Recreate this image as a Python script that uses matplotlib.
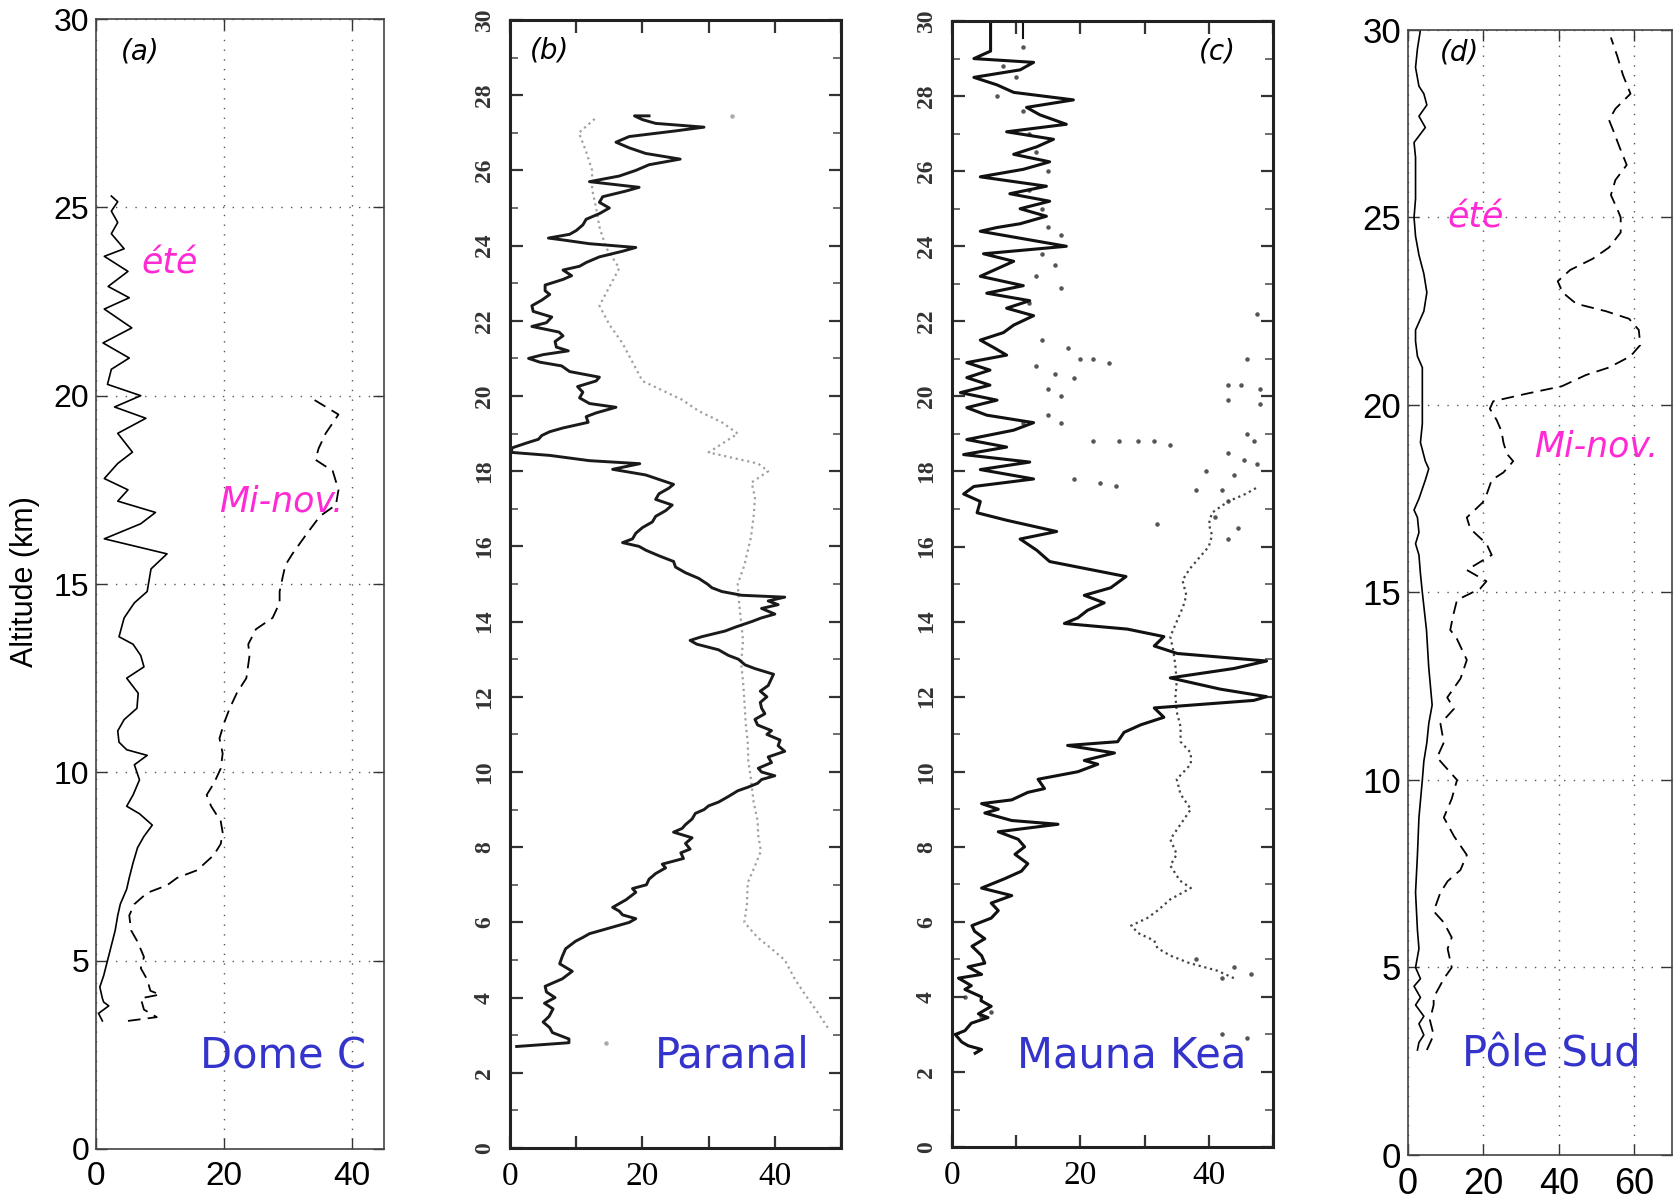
import numpy as np
import matplotlib
matplotlib.use('Agg')
import matplotlib.pyplot as plt
from matplotlib.ticker import MultipleLocator

plt.rcParams['font.family'] = ['DejaVu Sans']

# ---------------- (a) Dome C ----------------
a_ete_alt = [3.4, 3.6, 3.8, 3.9, 4.0, 4.3, 4.6, 5.0, 5.4, 5.8, 6.2, 6.5, 6.9, 7.2, 7.6, 8.0,
             8.3, 8.6, 8.9, 9.1, 9.4, 9.8, 10.2, 10.45, 10.6, 10.8, 11.1, 11.4, 11.7, 12.1,
             12.5, 12.8, 13.1, 13.4, 13.6, 14.1, 14.5, 14.8, 15.0, 15.4, 15.8, 16.2, 16.6,
             16.9, 17.2, 17.5, 17.8, 18.2, 18.5, 19.0, 19.4, 19.7, 20.0, 20.3, 20.7, 21.0,
             21.4, 21.8, 22.3, 22.6, 22.9, 23.3, 23.7, 23.9, 24.3, 24.6, 24.9, 25.15, 25.3]
a_ete_val = [1.0, 0.4, 2.0, 1.2, 1.0, 0.6, 1.2, 1.8, 2.4, 3.0, 3.4, 3.8, 4.8, 5.2, 5.8, 6.5,
             7.5, 8.8, 6.8, 4.8, 5.8, 6.8, 6.0, 8.0, 4.8, 3.6, 3.4, 4.4, 6.4, 6.6,
             4.8, 7.5, 7.0, 5.8, 3.6, 4.4, 6.0, 8.0, 8.2, 8.6, 11.1, 1.3, 7.0,
             9.3, 3.4, 5.0, 1.3, 3.4, 5.7, 3.4, 7.8, 2.9, 7.0, 1.8, 2.4, 5.2,
             1.1, 5.6, 1.3, 5.2, 1.9, 5.0, 1.3, 4.4, 2.4, 3.4, 2.4, 3.4, 2.4]

a_nov_alt = [3.4, 3.5, 3.7, 4.0, 4.1, 4.2, 4.5, 4.8, 5.1, 5.5, 5.8, 6.2, 6.5, 6.8, 7.0, 7.2,
             7.4, 7.8, 8.1, 8.4, 8.7, 9.1, 9.4, 9.7, 10.1, 10.5, 10.9, 11.3, 11.7, 12.1,
             12.5, 13.1, 13.4, 13.8, 14.1, 14.5, 14.8, 15.2, 15.5, 15.8, 16.3, 16.8, 17.1,
             17.5, 18.0, 18.3, 18.6, 19.0, 19.5, 19.9]
a_nov_val = [5.0, 9.5, 7.5, 7.0, 10.0, 8.5, 8.0, 7.0, 7.5, 6.5, 5.5, 5.2, 6.0, 8.0, 11.1, 12.7,
             15.8, 18.4, 19.5, 19.8, 19.5, 18.0, 17.3, 18.4, 19.5, 19.8, 19.3, 20.0, 20.9, 22.0,
             23.5, 24.0, 23.8, 25.0, 27.6, 28.7, 28.7, 29.2, 29.6, 30.7, 32.8, 35.0, 37.5,
             37.9, 37.0, 34.3, 34.8, 35.9, 37.9, 34.0]

# ---------------- (b) Paranal ----------------
b_sol_alt = [2.7, 2.8, 2.9, 3.07, 3.2, 3.35, 3.5, 3.7, 3.85, 4.0, 4.15, 4.3, 4.5, 4.7, 4.9,
             5.1, 5.3, 5.5, 5.6, 5.7, 5.8, 5.9, 6.0, 6.1, 6.2, 6.3, 6.4, 6.5, 6.6, 6.8, 6.9,
             7.0, 7.15, 7.3, 7.45, 7.55, 7.7, 7.85, 7.95, 8.1, 8.25, 8.4, 8.5, 8.6, 8.75,
             8.9, 9.0, 9.1, 9.2, 9.35, 9.5, 9.6, 9.7, 9.8, 9.9, 10.0, 10.1, 10.25, 10.4,
             10.55, 10.7, 10.85, 11.0, 11.1, 11.25, 11.4, 11.55, 11.7, 11.85, 12.0, 12.15,
             12.3, 12.45, 12.6, 12.75, 12.85, 13.0, 13.1, 13.25, 13.4, 13.5, 13.6, 13.75,
             13.85, 14.0, 14.1, 14.2, 14.35, 14.45, 14.55, 14.65, 14.7, 14.8, 14.9, 15.0,
             15.15, 15.3, 15.45, 15.6, 15.75, 15.9, 16.0, 16.1, 16.2, 16.35, 16.5, 16.65,
             16.8, 16.95, 17.1, 17.25, 17.4, 17.55, 17.65, 17.75, 17.9, 18.05, 18.2, 18.28,
             18.35, 18.42, 18.5, 18.62, 18.75, 18.85, 18.95, 19.05, 19.15, 19.3, 19.45,
             19.55, 19.7, 19.8, 19.95, 20.1, 20.25, 20.4, 20.5, 20.65, 20.8, 20.9, 21.0,
             21.1, 21.2, 21.3, 21.45, 21.6, 21.7, 21.85, 21.95, 22.1, 22.25, 22.4, 22.55,
             22.7, 22.8, 22.95, 23.1, 23.2, 23.35, 23.45, 23.55, 23.7, 23.85, 23.95, 24.05,
             24.15, 24.2, 24.3, 24.4, 24.55, 24.7, 24.85, 25.0, 25.15, 25.3, 25.45, 25.55,
             25.7, 25.85, 26.0, 26.15, 26.3, 26.45, 26.6, 26.75, 26.9, 27.05, 27.15, 27.25,
             27.35, 27.45, 27.45]
b_sol_val = [1.0, 8.9, 8.9, 6.4, 6.0, 5.0, 5.9, 6.5, 5.2, 6.8, 5.5, 5.3, 7.9, 9.4, 7.5,
             7.9, 8.4, 9.9, 11.0, 12.0, 14.0, 16.0, 18.0, 19.0, 17.0, 16.5, 15.5, 16.5, 17.5,
             19.0, 18.5, 20.6, 21.0, 22.0, 23.5, 23.0, 26.2, 25.8, 27.2, 26.5, 27.5, 24.7,
             26.0, 26.5, 27.5, 28.0, 29.3, 30.0, 31.5, 33.0, 34.4, 36.0, 37.4, 38.0, 40.0,
             38.0, 37.5, 39.5, 39.0, 41.5, 40.5, 40.8, 38.8, 39.5, 37.4, 37.0, 38.5, 38.0,
             37.8, 38.8, 37.8, 39.0, 39.4, 39.8, 37.0, 35.5, 34.5, 33.0, 31.5, 28.2, 27.2,
             29.0, 32.5, 34.0, 36.5, 38.0, 40.0, 38.0, 40.5, 39.0, 41.5, 35.0, 32.0, 30.5,
             29.8, 28.5, 26.5, 25.0, 24.7, 22.5, 20.5, 19.5, 17.0, 18.5, 19.0, 20.0, 21.5,
             22.0, 23.5, 24.5, 22.0, 22.5, 24.0, 24.7, 23.0, 20.5, 15.5, 19.6, 12.0, 9.0,
             6.0, 0.2, 0.3, 2.5, 4.3, 4.8, 6.0, 8.0, 11.8, 11.5, 13.0, 16.0, 12.0, 10.5,
             11.0, 10.2, 13.0, 13.5, 9.0, 7.8, 4.5, 2.8, 5.0, 8.8, 7.0, 6.8, 8.0, 7.4, 3.3,
             5.5, 6.3, 3.5, 3.3, 4.8, 6.0, 5.3, 5.3, 8.0, 9.3, 8.0, 10.5, 11.5, 13.5, 17.0,
             19.0, 12.0, 8.0, 5.8, 9.0, 10.0, 11.0, 11.5, 13.5, 15.0, 13.5, 14.0, 17.5, 19.5,
             12.0, 16.5, 19.0, 21.0, 25.7, 20.5, 18.0, 16.0, 18.0, 25.0, 29.3, 22.0, 20.0,
             18.8, 21.0]

b_dot_alt = [3.2, 3.6, 4.1, 4.5, 5.0, 5.3, 5.6, 6.0, 6.5, 7.05, 7.5, 7.9, 8.3, 8.7, 9.2,
             9.8, 10.3, 10.8, 11.3, 11.9, 12.4, 12.9, 13.5, 14.0, 14.5, 15.0, 15.5, 16.25,
             16.8, 17.3, 17.7, 18.0, 18.2, 18.5, 19.0, 19.3, 19.6, 19.9, 20.4, 20.9, 21.4,
             21.9, 22.4, 22.9, 23.4, 23.95, 24.5, 25.0, 25.5, 26.0, 26.5, 27.0, 27.4]
b_dot_val = [48.0, 46.5, 44.5, 43.0, 41.5, 39.5, 37.4, 35.4, 35.8, 35.9, 37.0, 37.9, 37.5,
             37.4, 36.8, 36.4, 36.0, 35.9, 35.6, 35.4, 35.2, 34.9, 35.2, 34.9, 34.6, 34.4,
             35.4, 36.4, 36.8, 37.0, 36.5, 39.0, 37.5, 30.0, 34.4, 32.0, 28.5, 26.0, 20.0,
             18.5, 17.0, 15.0, 13.5, 15.0, 16.5, 14.5, 13.5, 13.0, 12.4, 12.4, 11.5, 10.4,
             13.0]
b_spot_alt = [27.45, 2.8]
b_spot_val = [33.5, 14.5]

# ---------------- (c) Mauna Kea ----------------
c_sol_alt = [2.5, 2.6, 2.7, 2.8, 3.0, 3.1, 3.3, 3.45, 3.55, 3.75, 3.9, 4.0, 4.2, 4.3, 4.5,
             4.6, 4.8, 4.9, 5.1, 5.35, 5.55, 5.75, 5.9, 6.1, 6.3, 6.5, 6.7, 6.9, 7.15, 7.35,
             7.55, 7.8, 8.0, 8.2, 8.4, 8.6, 8.7, 8.9, 9.0, 9.15, 9.25, 9.45, 9.55, 9.8, 10.0,
             10.2, 10.3, 10.5, 10.7, 10.8, 11.05, 11.25, 11.45, 11.7, 11.9, 12.0, 12.2, 12.4,
             12.5, 12.75, 12.95, 13.15, 13.35, 13.6, 13.8, 13.95, 14.1, 14.3, 14.5, 14.7,
             14.9, 15.2, 15.6, 15.9, 16.2, 16.4, 16.7, 16.9, 17.2, 17.4, 17.6, 17.8, 18.05,
             18.25, 18.45, 18.65, 18.85, 19.1, 19.3, 19.5, 19.7, 19.9, 20.1, 20.3, 20.5,
             20.7, 20.9, 21.1, 21.3, 21.5, 21.7, 21.9, 22.15, 22.35, 22.55, 22.75, 22.95,
             23.2, 23.4, 23.6, 23.8, 24.0, 24.2, 24.4, 24.5, 24.6, 24.8, 25.0, 25.2, 25.4,
             25.6, 25.85, 26.05, 26.25, 26.45, 26.65, 26.85, 27.05, 27.25, 27.5, 27.7, 27.9,
             28.1, 28.3, 28.5, 28.7, 28.9, 29.0, 29.2, 30.0]
c_sol_val = [3.6, 4.6, 2.5, 1.5, 0.5, 2.0, 3.0, 5.6, 4.1, 6.1, 4.5, 4.6, 2.0, 3.0, 1.0,
             4.6, 2.5, 5.1, 4.6, 3.1, 5.1, 3.5, 3.1, 6.1, 7.2, 6.1, 9.3, 4.6, 8.2, 10.8,
             11.8, 9.8, 11.3, 10.3, 7.2, 16.5, 9.3, 5.1, 7.2, 4.6, 9.3, 11.8, 14.4, 13.4, 19.6,
             22.7, 20.6, 25.3, 18.0, 25.8, 26.8, 29.4, 33.0, 31.5, 47.0, 49.0, 41.8, 36.6,
             34.0, 43.9, 49.0, 35.1, 31.5, 33.0, 27.3, 17.5, 19.6, 21.1, 23.7, 20.6,
             24.7, 27.1, 15.2, 13.2, 10.6, 16.3, 8.5, 3.9, 4.4, 1.8, 3.4, 12.7, 4.4,
             12.1, 1.8, 8.5, 2.3, 9.6, 12.7, 5.4, 2.3, 7.0, 1.3, 5.9, 2.3,
             5.9, 2.3, 8.5, 6.5, 4.4, 8.0, 9.6, 12.7, 8.5, 12.1, 5.4, 11.1,
             4.4, 7.0, 9.6, 4.9, 17.8, 11.1, 4.4, 7.0, 10.6, 14.7, 10.6, 15.2, 9.0,
             14.7, 4.4, 11.1, 15.2, 9.6, 13.2, 15.8, 8.5, 17.8, 13.7, 11.6, 18.9,
             9.6, 7.0, 3.4, 10.6, 12.7, 3.4, 6.0, 6.0]
c_top_alt = [29.55, 30.0]
c_top_val = [11.0, 11.0]

c_dot_alt = [4.5, 4.7, 4.9, 5.1, 5.3, 5.5, 5.7, 5.9, 6.1, 6.3, 6.6, 6.9, 7.1, 7.5, 7.8, 8.2,
             8.6, 9.0, 9.4, 9.8, 10.2, 10.5, 10.8, 11.2, 11.6, 12.0, 12.4, 12.8, 13.2, 13.6,
             14.0, 14.4, 14.7, 15.1, 15.4, 15.7, 16.0, 16.3, 16.6, 16.9, 17.2, 17.4, 17.6]
c_dot_val = [43.9, 41.3, 37.0, 34.0, 32.0, 31.5, 29.0, 27.9, 30.4, 32.0, 34.0, 37.2, 35.5,
             34.0, 35.0, 34.0, 35.6, 37.2, 35.6, 35.0, 37.2, 37.2, 35.6, 35.6, 35.0, 34.8,
             35.0, 34.8, 34.5, 34.0, 35.0, 36.0, 36.5, 35.9, 37.0, 38.5, 40.0, 40.5, 40.0,
             40.5, 43.0, 45.7, 47.8]
c_pts_alt = [29.3, 28.8, 28.5, 28.0, 27.6, 27.0, 26.5, 26.0, 25.5, 25.0, 24.5, 24.3, 23.8,
             23.5, 23.2, 22.9, 22.5, 21.5, 21.3, 21.0, 20.9, 21.0, 20.8, 20.6, 20.5, 20.2,
             20.0, 19.5, 19.3, 19.3, 18.8, 18.8, 18.8, 18.8, 18.7, 17.8, 17.7, 17.6, 17.5,
             16.6, 22.2, 21.0, 20.3, 20.3, 20.2, 19.9, 19.8, 19.0, 18.8, 18.5, 18.3, 18.2,
             18.0, 17.9, 17.5, 17.2, 16.8, 16.5, 16.2, 5.0, 4.6, 4.5, 4.8, 3.0, 2.9, 3.6,
             3.5, 4.0]
c_pts_val = [11.0, 8.0, 10.0, 7.0, 11.0, 12.0, 13.0, 15.0, 12.0, 14.0, 15.0, 17.0, 14.0,
             16.0, 13.0, 17.0, 12.0, 14.0, 18.0, 20.0, 24.5, 22.0, 13.0, 16.0, 19.0, 15.0,
             17.0, 15.0, 17.0, 11.0, 22.0, 26.0, 29.0, 31.5, 34.0, 19.0, 23.0, 25.5, 38.0,
             32.0, 47.5, 46.0, 43.0, 45.0, 48.0, 43.0, 48.0, 46.0, 47.0, 43.0, 45.5, 47.5,
             39.5, 44.0, 42.0, 43.0, 41.0, 44.5, 43.0, 38.0, 46.5, 42.0, 44.0, 42.0, 46.0,
             6.0, 4.5, 2.0]

# ---------------- (d) South Pole ----------------
d_ete_alt = [2.8, 3.0, 3.2, 3.5, 3.7, 4.0, 4.2, 4.5, 4.7, 5.0, 5.5, 6.0, 7.0, 8.0, 9.0,
             10.0, 10.5, 11.0, 11.5, 12.0, 13.0, 14.0, 15.0, 15.5, 16.0, 16.3, 16.6, 17.0,
             17.2, 17.5, 18.0, 18.3, 18.5, 19.0, 19.5, 20.0, 20.5, 21.0, 21.3, 21.7, 22.0,
             22.5, 23.0, 23.5, 24.0, 24.5, 25.0, 25.5, 26.3, 26.6, 27.0, 27.4, 27.7, 28.0,
             28.3, 28.5, 29.0, 29.5, 30.0]
d_ete_val = [2.5, 2.9, 4.2, 2.9, 4.2, 2.0, 3.3, 1.6, 3.3, 2.0, 2.9, 2.5, 2.0, 2.5, 2.9,
             3.8, 4.2, 5.0, 5.5, 6.4, 5.5, 4.9, 3.8, 3.3, 2.9, 2.0, 2.9, 2.5,
             1.6, 2.9, 4.6, 5.5, 4.6, 3.3, 3.8, 3.8, 3.8, 3.8, 2.5, 2.0, 2.0,
             4.2, 5.0, 4.2, 2.9, 2.0, 1.6, 2.0, 2.0, 2.0, 1.6, 4.6, 2.9, 5.0,
             4.2, 2.9, 2.0, 2.5, 3.3]

d_nov_alt = [2.8, 3.2, 3.6, 4.0, 4.2, 4.7, 5.0, 5.5, 5.8, 6.2, 6.5, 7.0, 7.3, 7.6, 8.0,
             8.5, 9.0, 9.5, 10.0, 10.6, 11.0, 11.5, 11.9, 12.2, 12.7, 13.2, 13.8, 14.0,
             14.4, 14.8, 15.1, 15.3, 15.6, 16.0, 16.3, 16.7, 17.0, 17.4, 17.6, 18.0, 18.2,
             18.5, 18.7, 19.0, 19.3, 19.6, 19.9, 20.1, 20.3, 20.5, 20.8, 21.0, 21.3, 21.6,
             22.0, 22.3, 22.5, 22.7, 23.0, 23.3, 23.6, 23.9, 24.2, 24.6, 25.0, 25.2, 25.6,
             26.0, 26.4, 26.9, 27.3, 27.6, 27.9, 28.3, 28.8, 29.3, 29.8]
d_nov_val = [5.0, 6.8, 5.8, 6.8, 6.8, 9.5, 11.6, 10.5, 11.6, 9.5, 6.8, 8.6, 10.5, 13.9,
             15.6, 12.2, 9.5, 11.6, 13.0, 7.7, 9.5, 8.6, 12.2, 10.4, 13.9, 15.6, 12.8, 11.2,
             12.0, 13.0, 19.1, 20.8, 15.6, 22.2, 20.8, 16.5, 15.6, 19.8, 20.8, 22.2, 25.3,
             27.9, 26.2, 25.3, 24.8, 23.5, 21.7, 22.6, 31.4, 40.8, 47.2, 53.3, 59.0, 61.6,
             61.2, 58.6, 52.5, 44.6, 41.0, 39.7, 43.0, 49.0, 53.3, 56.4, 56.4, 55.6, 53.8,
             55.0, 58.0, 56.0, 54.5, 53.3, 55.0, 59.0, 57.0, 55.5, 53.8]

blue = '#3434cc'
pink = '#ff2ad4'
narrow = ['Liberation Sans Narrow', 'DejaVu Sans Condensed', 'Liberation Sans']
sans = ['Liberation Sans', 'DejaVu Sans']
serif = ['Liberation Serif', 'DejaVu Serif']

fig = plt.figure(figsize=(16.75, 12.04), dpi=100)
axA = fig.add_axes([0.0573, 0.0457, 0.1719, 0.9385])
axB = fig.add_axes([0.3045, 0.0465, 0.1976, 0.9369])
axC = fig.add_axes([0.5684, 0.0473, 0.1916, 0.9352])
axD = fig.add_axes([0.8406, 0.0407, 0.1576, 0.9344])


def matlab_style(ax, xmax, xt, ysize, xsize):
    ax.set_xlim(0, xmax)
    ax.set_ylim(0, 30)
    ax.set_xticks(xt)
    ax.set_yticks(range(0, 31, 5))
    ax.grid(True, ls=(0, (1, 6)), color='#555555', lw=1.0)
    ax.tick_params(direction='in', top=True, right=True, length=8, width=1.0,
                   color='#333333')
    ax.tick_params(axis='y', labelsize=ysize, pad=5)
    ax.tick_params(axis='x', labelsize=xsize, pad=9)
    for lab in ax.get_yticklabels():
        lab.set_family(sans)
    for lab in ax.get_xticklabels():
        lab.set_family(narrow)
    for s in ax.spines.values():
        s.set_linewidth(1.2)
        s.set_color('#444444')


def scan_style(ax):
    ax.set_xlim(0, 50)
    ax.set_ylim(0, 30)
    ax.set_xticks(range(0, 51, 10))
    ax.set_xticklabels(['0', '', '20', '', '40', ''])
    ax.set_yticks(range(0, 31, 2))
    ax.yaxis.set_minor_locator(MultipleLocator(1))
    ax.tick_params(direction='in', top=True, right=True, length=9, width=1.6,
                   color='#333333')
    ax.tick_params(which='minor', direction='in', right=True, length=6, width=1.2,
                   color='#555555')
    ax.tick_params(axis='x', labelsize=24, pad=10)
    ax.tick_params(axis='y', labelsize=17, labelrotation=90, pad=11,
                   labelcolor='#333333')
    for lab in ax.get_xticklabels():
        lab.set_family(serif)
    for lab in ax.get_yticklabels():
        lab.set_va('center')
        lab.set_family(serif)
        lab.set_fontweight('bold')
    for s in ax.spines.values():
        s.set_linewidth(2.2)
        s.set_color('#222222')


# (a)
axA.plot(a_ete_val, a_ete_alt, color='k', lw=1.2)
axA.plot(a_nov_val, a_nov_alt, color='k', lw=1.3, ls=(0, (7, 4)))
matlab_style(axA, 45, [0, 20, 40], 23, 24)
axA.text(6.9, 29.15, '(a)', fontsize=20, style='italic', ha='center', va='center')
axA.text(11.5, 23.5, 'été', fontsize=25, style='italic', color=pink, ha='center', va='center')
axA.text(29.0, 17.2, 'Mi-nov.', fontsize=25, style='italic', color=pink, ha='center', va='center')
axA.text(29.2, 2.45, 'Dome C', fontsize=30, color=blue, ha='center', va='center')

# (b)
axB.plot(b_dot_val, b_dot_alt, color='#a0a0a0', lw=1.6, ls=':')
axB.scatter(b_spot_val, b_spot_alt, s=5, color='#aaaaaa')
axB.plot(b_sol_val, b_sol_alt, color='#1a1a1a', lw=2.1)
scan_style(axB)
axB.text(6.0, 29.2, '(b)', fontsize=20, style='italic', ha='center', va='center')
axB.text(33.5, 2.47, 'Paranal', fontsize=30, color=blue, ha='center', va='center')

# (c)
axC.plot(c_dot_val, c_dot_alt, color='#444444', lw=1.6, ls=':')
axC.scatter(c_pts_val, c_pts_alt, s=5, color='#555555')
axC.plot(c_sol_val, c_sol_alt, color='#111111', lw=2.2)
axC.plot(c_top_val, c_top_alt, color='#111111', lw=1.5)
scan_style(axC)
axC.text(41.4, 29.2, '(c)', fontsize=20, style='italic', ha='center', va='center')
axC.text(28.0, 2.45, 'Mauna Kea', fontsize=30, color=blue, ha='center', va='center')

# (d)
axD.plot(d_ete_val, d_ete_alt, color='k', lw=1.2)
axD.plot(d_nov_val, d_nov_alt, color='k', lw=1.3, ls=(0, (7, 4)))
matlab_style(axD, 70, [0, 20, 40, 60], 25, 26)
axD.text(13.8, 29.4, '(d)', fontsize=20, style='italic', ha='center', va='center')
axD.text(18.0, 25.0, 'été', fontsize=25, style='italic', color=pink, ha='center', va='center')
axD.text(50.0, 18.9, 'Mi-nov.', fontsize=25, style='italic', color=pink, ha='center', va='center')
axD.text(37.9, 2.67, 'Pôle Sud', fontsize=30, color=blue, ha='center', va='center')

fig.text(0.015, 0.517, 'Altitude (km)', rotation=90, fontsize=22, ha='center', va='center',
         family=sans)

fig.savefig('out.png', dpi=100)
